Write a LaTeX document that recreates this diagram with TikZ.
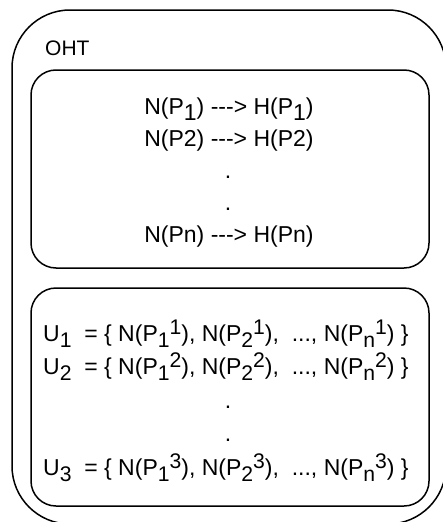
\documentclass[tikz,border=0pt]{standalone}
\usepackage{fontspec}
\setmainfont{Liberation Sans}
\newcommand\lo[1]{\raisebox{-6pt}{#1}}
\newcommand\hi[1]{\raisebox{7pt}{#1}}
\newcommand\slo[1]{\raisebox{-6pt}{\scalebox{0.92}{#1}}}
\newcommand\shi[1]{\raisebox{7pt}{\scalebox{0.92}{#1}}}
\newcommand\arr{{-}{-}{-}>}
\begin{document}
\begin{tikzpicture}[x=1pt,y=-1pt,
  box/.style={draw, line width=1.5pt, inner sep=0pt},
  txt/.style={inner sep=0pt, font=\fontsize{23}{27}\selectfont},
  ctxt/.style={txt, anchor=base},
  ltxt/.style={txt, anchor=base west}]
\useasboundingbox (0,0) rectangle (442,522);
\node[box, rounded corners=58pt, minimum width=434pt, minimum height=514pt] (outer) at (229,267) {};
\node[box, rounded corners=25pt, minimum width=398pt, minimum height=198pt] (top) at (230,169) {};
\node[box, rounded corners=25pt, minimum width=398pt, minimum height=218pt] (bottom) at (230,397) {};
\node[inner sep=0pt, anchor=base west, font=\fontsize{21}{25}\selectfont] (oht) at (45,55) {OHT};
\node[ctxt] (l1) at (229,114) {N(P\lo{1}) \arr{} H(P\lo{1})};
\node[ctxt] (l2) at (229,146) {N(P2) \arr{} H(P2)};
\node[ctxt] (l3) at (228,178) {.};
\node[ctxt] (l4) at (228,210) {.};
\node[ctxt] (l5) at (229,242) {N(Pn) \arr{} H(Pn)};
\node[ltxt] (u1) at (43,341) {U\slo{1}\ \ = \{ N(P\slo{1}\shi{1}), N(P\slo{2}\shi{1}),\ \ ..., N(P\slo{n}\shi{1}) \}};
\node[ltxt] (u2) at (43,374.5) {U\slo{2}\ \ = \{ N(P\slo{1}\shi{2}), N(P\slo{2}\shi{2}),\ \ ..., N(P\slo{n}\shi{2}) \}};
\node[ctxt] (u3) at (228,408) {.};
\node[ctxt] (u4) at (228,441.5) {.};
\node[ltxt] (u5) at (43,475) {U\slo{3}\ \ = \{ N(P\slo{1}\shi{3}), N(P\slo{2}\shi{3}),\ \ ..., N(P\slo{n}\shi{3}) \}};
\end{tikzpicture}
\end{document}
